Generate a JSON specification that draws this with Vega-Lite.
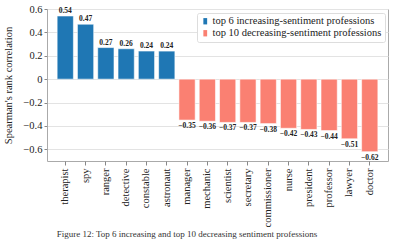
{
  "$schema": "https://vega.github.io/schema/vega-lite/v6.json",
  "width": 341,
  "height": 152,
  "autosize": {"type": "none"},
  "padding": {"left": 47, "top": 9, "right": 7, "bottom": 80},
  "background": "white",
  "config": {
    "font": "Liberation Serif",
    "view": {"stroke": "#aaaaaa", "strokeWidth": 1},
    "axis": {"labelFont": "Liberation Serif", "titleFont": "Liberation Serif", "labelColor": "#222", "titleColor": "#222", "tickColor": "#888", "domainColor": "#aaaaaa"}
  },
  "title": {
    "text": "Figure 12: Top 6 increasing and top 10 decreasing sentiment professions",
    "orient": "bottom",
    "anchor": "middle",
    "frame": "bounds",
    "fontSize": 9,
    "fontWeight": "normal",
    "font": "Liberation Serif",
    "color": "#333",
    "offset": 3,
    "dx": -9
  },
  "data": {
    "values": [
      {"profession": "therapist", "rho": 0.54, "group": "top 6 increasing-sentiment professions"},
      {"profession": "spy", "rho": 0.47, "group": "top 6 increasing-sentiment professions"},
      {"profession": "ranger", "rho": 0.27, "group": "top 6 increasing-sentiment professions"},
      {"profession": "detective", "rho": 0.26, "group": "top 6 increasing-sentiment professions"},
      {"profession": "constable", "rho": 0.24, "group": "top 6 increasing-sentiment professions"},
      {"profession": "astronaut", "rho": 0.24, "group": "top 6 increasing-sentiment professions"},
      {"profession": "manager", "rho": -0.35, "group": "top 10 decreasing-sentiment professions"},
      {"profession": "mechanic", "rho": -0.36, "group": "top 10 decreasing-sentiment professions"},
      {"profession": "scientist", "rho": -0.37, "group": "top 10 decreasing-sentiment professions"},
      {"profession": "secretary", "rho": -0.37, "group": "top 10 decreasing-sentiment professions"},
      {"profession": "commissioner", "rho": -0.38, "group": "top 10 decreasing-sentiment professions"},
      {"profession": "nurse", "rho": -0.42, "group": "top 10 decreasing-sentiment professions"},
      {"profession": "president", "rho": -0.43, "group": "top 10 decreasing-sentiment professions"},
      {"profession": "professor", "rho": -0.44, "group": "top 10 decreasing-sentiment professions"},
      {"profession": "lawyer", "rho": -0.51, "group": "top 10 decreasing-sentiment professions"},
      {"profession": "doctor", "rho": -0.62, "group": "top 10 decreasing-sentiment professions"}
    ]
  },
  "encoding": {
    "x": {
      "field": "profession", "type": "nominal", "sort": null,
      "scale": {"paddingInner": 0.2, "paddingOuter": 0.5},
      "axis": {"title": null, "labelAngle": -90, "labelFontSize": 10.5, "labelPadding": 3, "tickSize": 4, "domain": false, "grid": false}
    },
    "y": {
      "field": "rho", "type": "quantitative",
      "scale": {"domain": [-0.7, 0.6], "nice": false, "zero": false},
      "axis": {"title": "Spearman's rank correlation", "titleFontSize": 10.5, "titleFontWeight": "normal", "labelFontSize": 10.5, "values": [-0.6, -0.4, -0.2, 0, 0.2, 0.4, 0.6], "format": ".1~f", "tickSize": 3, "labelPadding": 2, "domain": false, "gridColor": "#e3e3e3", "titlePadding": 9}
    }
  },
  "layer": [
    {
      "mark": {"type": "bar", "stroke": "white", "strokeWidth": 0.8, "strokeOpacity": 0.7},
      "encoding": {
        "color": {
          "field": "group", "type": "nominal",
          "scale": {"domain": ["top 6 increasing-sentiment professions", "top 10 decreasing-sentiment professions"], "range": ["#1f77b4", "#fa8072"]},
          "legend": {
            "title": null, "orient": "none", "legendX": 150, "legendY": 4,
            "labelFont": "Liberation Serif", "labelFontSize": 10.5, "labelColor": "#222", "labelLimit": 0,
            "symbolType": "M-0.6,-1H0.6V1H-0.6Z", "symbolSize": 40, "symbolStrokeWidth": 0,
            "strokeColor": "#dddddd", "padding": 3, "cornerRadius": 2, "rowPadding": 1, "labelOffset": 2, "fillColor": "white"
          }
        }
      }
    },
    {
      "transform": [{"filter": "datum.rho >= 0"}],
      "mark": {"type": "text", "baseline": "bottom", "dy": -1, "fontSize": 7.5, "fontWeight": "bold", "font": "Liberation Serif", "color": "#222"},
      "encoding": {"text": {"field": "rho", "type": "quantitative", "format": ".2f"}}
    },
    {
      "transform": [{"filter": "datum.rho < 0"}],
      "mark": {"type": "text", "baseline": "top", "dy": 2, "fontSize": 7.5, "fontWeight": "bold", "font": "Liberation Serif", "color": "#222"},
      "encoding": {"text": {"field": "rho", "type": "quantitative", "format": ".2f"}}
    }
  ]
}
